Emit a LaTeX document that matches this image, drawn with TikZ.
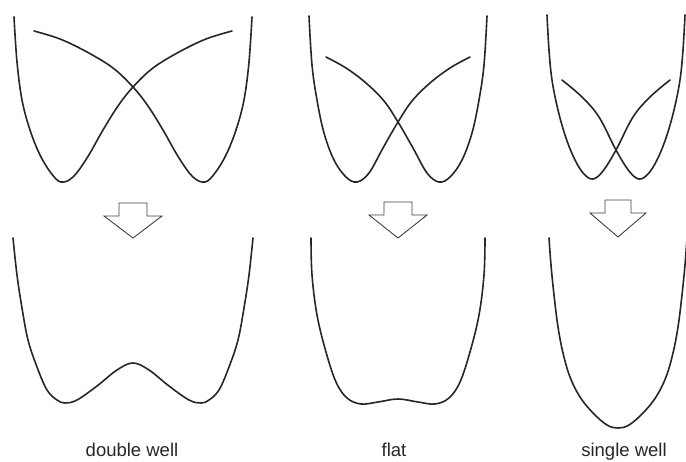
\documentclass[tikz,border=0pt]{standalone}
\usepackage{fontspec}
\setmainfont{Liberation Sans}
\begin{document}
\begin{tikzpicture}[x=1pt,y=-1pt,
  curve/.style={line width=1.6pt, draw=black!85, line join=round, line cap=round},
  bigarrow/.style={draw=black!75, line width=0.9pt, fill=white, line join=miter},
  lab/.style={font=\fontsize{18.5}{21}\selectfont, text=black!85, anchor=base, inner sep=0pt}]
\useasboundingbox (0,0) rectangle (686,461);
\clip (0,0) rectangle (686,461);
% ---------- panel 1 ----------
\begin{scope}[shift={(133,0)}]
  \draw[curve] plot[smooth, tension=0.6] coordinates {(-119,17) (-116,62) (-111,100) (-103,130) (-93,155) (-82,173) (-72,182) (-60,177) (-46,158) (-30,130) (-15,106) (0,87) (20,68) (46,52) (73,39) (99,31)};
  \draw[curve, xscale=-1] plot[smooth, tension=0.6] coordinates {(-119,17) (-116,62) (-111,100) (-103,130) (-93,155) (-82,173) (-72,182) (-60,177) (-46,158) (-30,130) (-15,106) (0,87) (20,68) (46,52) (73,39) (99,31)};
  \draw[bigarrow] (-14,203) -- (14,203) -- (14,216) -- (29,216) -- (0,238) -- (-29,216) -- (-14,216) -- cycle;
  \draw[curve] plot[smooth, tension=0.6] coordinates {(-120,238) (-116,275) (-111,308) (-105,340) (-96,367) (-86,390) (-76,400) (-68,403) (-56,400) (-36,386) (-16,370) (0,363) (16,370) (36,386) (56,400) (68,403) (76,400) (86,390) (96,367) (105,340) (111,308) (116,275) (120,238)};
\end{scope}
% ---------- panel 2 ----------
\begin{scope}[shift={(398,0)}]
  \draw[curve] plot[smooth, tension=0.6] coordinates {(-89,16) (-86,65) (-81,100) (-74,133) (-64,160) (-52,177) (-41,182) (-29,173) (-15,148) (0,122) (14,101) (32,83) (52,68) (72,57)};
  \draw[curve, xscale=-1] plot[smooth, tension=0.6] coordinates {(-89,16) (-86,65) (-81,100) (-74,133) (-64,160) (-52,177) (-41,182) (-29,173) (-15,148) (0,122) (14,101) (32,83) (52,68) (72,57)};
  \draw[bigarrow] (-14,202) -- (14,202) -- (14,215) -- (29,215) -- (0,238) -- (-29,215) -- (-14,215) -- cycle;
  \draw[curve] plot[smooth, tension=0.6] coordinates {(-87,238) (-86,275) (-81,315) (-72,352) (-62,382) (-51,398) (-37,404) (-20,402) (0,399) (20,402) (37,404) (51,398) (62,382) (72,352) (81,315) (86,275) (87,238)};
\end{scope}
% ---------- panel 3 ----------
\begin{scope}[shift={(616,0)}]
  \draw[curve] plot[smooth, tension=0.6] coordinates {(-69,15) (-67,50) (-64,80) (-58,110) (-50,138) (-41,160) (-32,174) (-23,179) (-13,171) (0,150) (17,117) (34,97) (54,80)};
  \draw[curve, xscale=-1] plot[smooth, tension=0.6] coordinates {(-69,15) (-67,50) (-64,80) (-58,110) (-50,138) (-41,160) (-32,174) (-23,179) (-13,171) (0,150) (17,117) (34,97) (54,80)};
\end{scope}
\begin{scope}[shift={(618,0)}]
  \draw[bigarrow] (-13,200) -- (13,200) -- (13,213) -- (28,213) -- (0,237) -- (-28,213) -- (-13,213) -- cycle;
  \draw[curve] plot[smooth, tension=0.6] coordinates {(-69,238) (-67,265) (-64,295) (-60,327) (-55,353) (-48,377) (-38,397) (-25,413) (-11,425) (0,428) (11,425) (25,413) (38,397) (48,377) (55,353) (60,327) (64,295) (67,265) (69,238)};
\end{scope}
% ---------- labels ----------
\node[lab] (l1) at (132,456) {double well};
\node[lab] (l2) at (394,456) {flat};
\node[lab] (l3) at (624,456) {single well};
\end{tikzpicture}
\end{document}
